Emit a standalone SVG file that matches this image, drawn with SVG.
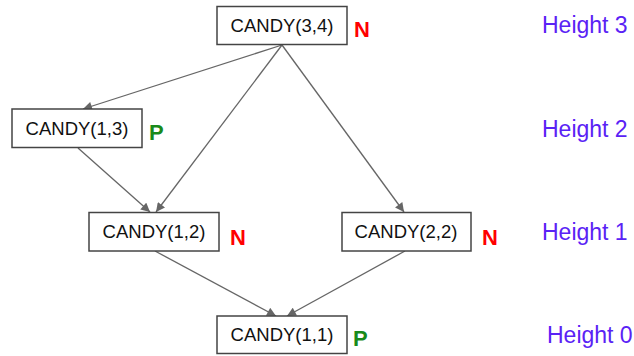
<svg xmlns="http://www.w3.org/2000/svg" width="634" height="356" viewBox="0 0 634 356">
<defs>
<marker id="ah" viewBox="0 0 10 10" refX="10" refY="5" markerWidth="10" markerHeight="9" markerUnits="userSpaceOnUse" orient="auto">
<path d="M0,0 L10,5 L0,10 z" fill="#666"/>
</marker>
<style>
.box{fill:#fff;stroke:#444;stroke-width:1.5}
.lbl{font-family:"Liberation Sans",Arial,sans-serif;font-size:18.5px;fill:#111;text-anchor:middle}
.n{font-family:"Liberation Sans",Arial,sans-serif;font-size:22px;font-weight:bold;fill:#f00}
.p{font-family:"Liberation Sans",Arial,sans-serif;font-size:22px;font-weight:bold;fill:#1a8a1a}
.h{font-family:"Liberation Sans",Arial,sans-serif;font-size:23px;fill:#5a22f5}
.e{stroke:#666;stroke-width:1.3;fill:none;marker-end:url(#ah)}
</style>
</defs>
<rect width="634" height="356" fill="#fff"/>
<g id="connectors">
<line class="e" x1="282" y1="45" x2="83" y2="109"/>
<line class="e" x1="282" y1="45" x2="156" y2="212"/>
<line class="e" x1="282" y1="45" x2="404" y2="212"/>
<line class="e" x1="78" y1="148" x2="150" y2="212"/>
<line class="e" x1="155" y1="251" x2="276" y2="316"/>
<line class="e" x1="405" y1="251" x2="287" y2="316"/>
</g>
<g id="n34">
<rect class="box" x="217" y="6.5" width="130" height="38"/>
<text class="lbl" x="282" y="32">CANDY(3,4)</text>
<text class="n" x="354" y="37">N</text>
</g>
<g id="n13">
<rect class="box" x="12" y="109" width="130" height="38.5"/>
<text class="lbl" x="77" y="135">CANDY(1,3)</text>
<text class="p" x="149" y="140">P</text>
</g>
<g id="n12">
<rect class="box" x="89" y="212.5" width="130" height="38.5"/>
<text class="lbl" x="154" y="238">CANDY(1,2)</text>
<text class="n" x="230" y="245">N</text>
</g>
<g id="n22">
<rect class="box" x="342" y="212.5" width="129" height="38.5"/>
<text class="lbl" x="406" y="238">CANDY(2,2)</text>
<text class="n" x="482" y="245">N</text>
</g>
<g id="n11">
<rect class="box" x="217" y="316" width="130" height="37.5"/>
<text class="lbl" x="282" y="341">CANDY(1,1)</text>
<text class="p" x="353" y="346">P</text>
</g>
<g id="heights">
<text class="h" x="542" y="33">Height 3</text>
<text class="h" x="542" y="137">Height 2</text>
<text class="h" x="542" y="240">Height 1</text>
<text class="h" x="547" y="343">Height 0</text>
</g>
</svg>
